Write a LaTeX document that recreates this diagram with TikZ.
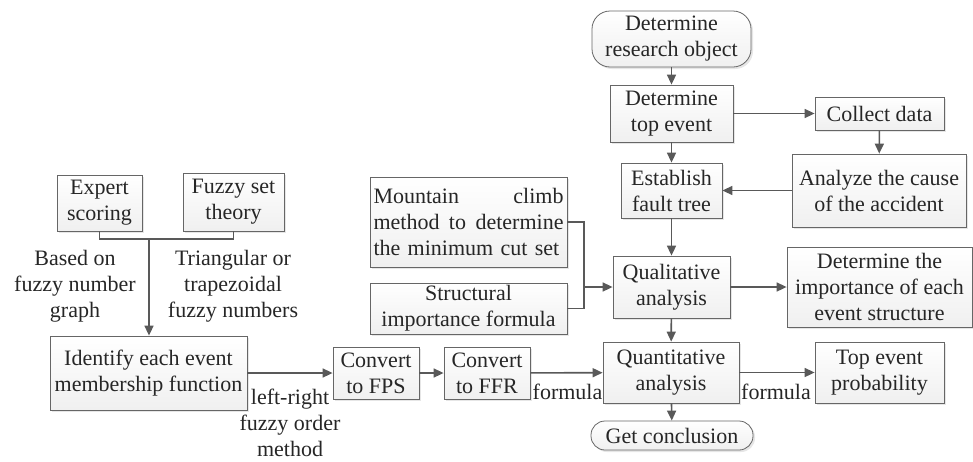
\documentclass[tikz,border=0pt]{standalone}
\usepackage{fontspec}
\setmainfont{Liberation Serif}
\usetikzlibrary{arrows.meta,shadows}

\tikzset{
  box/.style={draw=gray!80!black, top color=white, bottom color=gray!12, inner sep=0pt, align=center,
    drop shadow={opacity=0.2, shadow xshift=1pt, shadow yshift=-1pt}},
  term/.style={box, rounded corners=#1},
  link/.style={draw=black!65, line width=0.8pt, -{Triangle[length=5pt,width=4.5pt]}},
  plain/.style={draw=black!65, line width=0.8pt},
  note/.style={align=center, inner sep=0pt}
}

\begin{document}
\begin{tikzpicture}[x=0.5pt, y=-0.5pt, every node/.style={font=\fontsize{11pt}{13pt}\selectfont, text=black!85}]

\useasboundingbox (0,0) rectangle (973,461);

\node[box, minimum width=42.5pt, minimum height=28pt] (expert) at (99.5,203) {Expert\\scoring};
\node[box, minimum width=50.5pt, minimum height=29pt] (fuzzyset) at (233.5,202) {Fuzzy set\\theory};
\node[box, minimum width=98.5pt, minimum height=37pt] (identify) at (148.5,373) {Identify each event\\membership function};
\node[box, minimum width=43pt, minimum height=26pt] (fps) at (376,373) {Convert\\to FPS};
\node[box, minimum width=43pt, minimum height=26pt] (ffr) at (487,373) {Convert\\to FFR};
\node[box, text width=95pt, inner xsep=1.75pt, minimum height=45pt, align=left] (climb) at (468.5,222) {Mountain\hfill climb\\method\hfill to\hfill determine\\the minimum cut set};
\node[box, minimum width=98.5pt, minimum height=25.5pt] (structural) at (468.5,308.5) {Structural\\importance formula};

\node[term=9pt, minimum width=79.5pt, minimum height=28pt] (object) at (671.5,39) {Determine\\research object};
\node[box, minimum width=61.5pt, minimum height=28.5pt] (top) at (671.5,113.5) {Determine\\top event};
\node[box, minimum width=50.5pt, minimum height=27.5pt] (fault) at (671.5,190.5) {Establish\\fault tree};
\node[box, minimum width=58.5pt, minimum height=31pt] (quali) at (671.5,287) {Qualitative\\analysis};
\node[box, minimum width=68pt, minimum height=30.5pt] (quant) at (671,372.5) {Quantitative\\analysis};
\node[term=7pt, minimum width=81pt, minimum height=14.5pt] (conclusion) at (672,435.5) {Get conclusion};

\node[box, minimum width=64.5pt, minimum height=16.5pt] (collect) at (879.5,113.5) {Collect data};
\node[box, minimum width=87pt, minimum height=36.5pt] (cause) at (879,190.5) {Analyze the cause\\of the accident};
\node[box, minimum width=92.5pt, minimum height=40pt] (importance) at (879.5,287) {Determine the\\importance of each\\event structure};
\node[box, minimum width=64.5pt, minimum height=30.5pt] (probability) at (879.5,372.5) {Top event\\probability};

\node[note] (graph) at (75,286) {Based on\\fuzzy number\\graph};
\node[note] (numbers) at (233,286) {Triangular or\\trapezoidal\\fuzzy numbers};
\node[note] (order) at (290,423) {left-right\\fuzzy order\\method};
\node[note] (formula1) at (567.5,392) {formula};
\node[note] (formula2) at (776,392) {formula};

\coordinate (join1) at (149,239);
\coordinate (join2) at (584,287);

\draw[plain] (expert.south) |- (join1);
\draw[plain] (fuzzyset.south) |- (join1);
\draw[link] (join1) -- (join1 |- identify.north);
\draw[link] (identify) -- (fps);
\draw[link] (fps) -- (ffr);
\draw[link] (ffr) -- (quant);

\draw[plain] (climb.east) -| (join2);
\draw[plain] (structural.east) -| (join2);
\draw[link] (join2) -- (quali);

\draw[link] (object) -- (top);
\draw[link] (top) -- (collect);
\draw[link] (collect) -- (cause);
\draw[link] (cause) -- (fault);
\draw[link] (top) -- (fault);
\draw[link] (fault) -- (quali);
\draw[link] (quali) -- (importance);
\draw[link] (quali) -- (quant);
\draw[link] (quant) -- (probability);
\draw[link] (quant) -- (conclusion);

\end{tikzpicture}
\end{document}
